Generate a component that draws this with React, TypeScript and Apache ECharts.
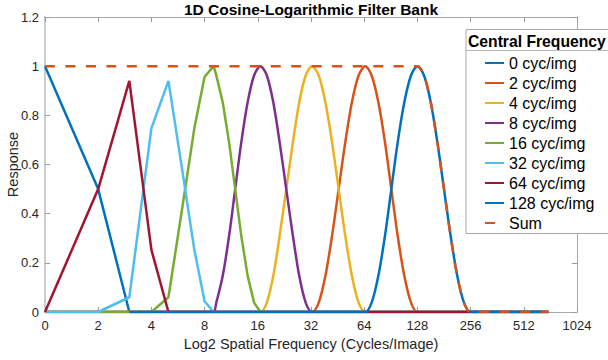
import React, { useEffect, useRef } from "react";
import * as echarts from "echarts";

// Tick labels of the log2 frequency axis (positions 0..10)
const xTickLabels = ["0", "2", "4", "8", "16", "32", "64", "128", "256", "512", "1024"];
const legendLabels = [
  "0 cyc/img",
  "2 cyc/img",
  "4 cyc/img",
  "8 cyc/img",
  "16 cyc/img",
  "32 cyc/img",
  "64 cyc/img",
  "128 cyc/img",
  "Sum",
];
const colors = ["#0072BD", "#D95319", "#EDB120", "#7E2F8E", "#77AC30", "#4DBEEE", "#A2142F", "#0072BD", "#D95319"];

// [log2 position, response]
const lowpass = [[0, 1], [1, 0.5], [1.585, 0], [9.46, 0]];
const band64 = [
  [0, 0], [4.9, 0], [5.02, 0], [5.145, 0.038], [5.27, 0.146], [5.395, 0.309], [5.52, 0.5], [5.645, 0.691],
  [5.77, 0.854], [5.895, 0.962], [6.02, 1], [6.14, 0.962], [6.265, 0.854], [6.39, 0.691], [6.51, 0.5],
  [6.63, 0.309], [6.755, 0.146], [6.88, 0.038], [7.0, 0], [7.12, 0], [9.46, 0],
];
const band32 = [
  [0, 0], [3.93, 0], [4.05, 0], [4.17, 0.038], [4.29, 0.146], [4.41, 0.309], [4.535, 0.5], [4.66, 0.691],
  [4.78, 0.854], [4.9, 0.962], [5.02, 1], [5.145, 0.962], [5.27, 0.854], [5.395, 0.691], [5.52, 0.5],
  [5.645, 0.309], [5.77, 0.146], [5.895, 0.038], [6.02, 0], [6.14, 0], [9.46, 0],
];
const band16 = [
  [0, 0], [3.06, 0], [3.17, 0], [3.22, 0.038], [3.34, 0.146], [3.46, 0.309], [3.575, 0.5], [3.69, 0.691],
  [3.81, 0.854], [3.93, 0.962], [4.05, 1], [4.17, 0.962], [4.29, 0.854], [4.41, 0.691], [4.535, 0.5],
  [4.66, 0.309], [4.78, 0.146], [4.9, 0.038], [5.02, 0], [5.145, 0], [9.46, 0],
];
const band8 = [
  [0, 0], [2, 0], [2.32, 0.06], [2.585, 0.43], [2.807, 0.747], [3.0, 0.957], [3.17, 1], [3.22, 0.962],
  [3.34, 0.854], [3.46, 0.691], [3.575, 0.5], [3.69, 0.309], [3.81, 0.146], [3.93, 0.038], [4.05, 0], [9.46, 0],
];
const band4 = [[0, 0], [1, 0], [1.585, 0.06], [2, 0.747], [2.32, 0.94], [2.585, 0.57], [2.807, 0.253], [3.0, 0.043], [3.17, 0], [9.46, 0]];
const band2 = [[0, 0], [1, 0.5], [1.585, 0.94], [2, 0.253], [2.32, 0], [9.46, 0]];
const band128 = [
  [1.585, 0], [5.9, 0], [6.02, 0], [6.14, 0.038], [6.265, 0.146], [6.39, 0.309], [6.51, 0.5], [6.63, 0.691],
  [6.755, 0.854], [6.88, 0.962], [7.0, 1], [7.125, 0.962], [7.25, 0.854], [7.375, 0.691], [7.5, 0.5],
  [7.625, 0.309], [7.75, 0.146], [7.875, 0.038], [8.0, 0], [8.12, 0], [9.46, 0],
];
const sumCurve = [
  [0, 1], [6.88, 1], [7.0, 1], [7.125, 0.962], [7.25, 0.854], [7.375, 0.691], [7.5, 0.5], [7.625, 0.309],
  [7.75, 0.146], [7.875, 0.038], [8.0, 0], [8.12, 0], [9.46, 0],
];

const seriesData = [lowpass, band64, band32, band16, band8, band4, band2, band128, sumCurve];
const smoothFlags = [false, 0.3, 0.3, 0.3, false, false, false, 0.3, 0.3];

const FONT = "'Liberation Sans', Arial, Helvetica, sans-serif";

export default function App() {
  const ref = useRef<HTMLDivElement>(null);
  useEffect(() => {
    if (!ref.current) return;
    const chart = echarts.init(ref.current, undefined, { renderer: "svg" });
    const axisLineTop = { show: true, onZero: false, lineStyle: { color: "#a8a8a8", width: 1 } };
    const tick = { show: true, inside: true, length: 5, lineStyle: { color: "#9a9a9a", width: 1 } };
    const option: any = {
      animation: false,
      backgroundColor: "#ffffff",
      title: {
        text: "1D Cosine-Logarithmic Filter Bank",
        left: 311,
        top: 1,
        padding: 0,
        textAlign: "center",
        textStyle: { fontSize: 15.5, fontWeight: "bold", color: "#000", fontFamily: FONT },
      },
      grid: { left: 45, right: 31, top: 17, bottom: 48, containLabel: false, outerBoundsMode: "none" },
      xAxis: [
        {
          type: "value",
          min: 0,
          max: 10,
          interval: 1,
          position: "bottom",
          axisLine: { show: true, onZero: false, lineStyle: { color: "#a8a8a8", width: 1 } },
          axisTick: tick,
          splitLine: { show: false },
          axisLabel: {
            formatter: (v: number) => xTickLabels[Math.round(v)] ?? "",
            fontSize: 13,
            color: "#262626",
            margin: 7,
            fontFamily: FONT,
          },
          name: "Log2 Spatial Frequency (Cycles/Image)",
          nameLocation: "middle",
          nameGap: 24,
          nameTextStyle: { fontSize: 14.5, color: "#262626", fontFamily: FONT },
        },
        {
          type: "value",
          min: 0,
          max: 10,
          interval: 1,
          position: "top",
          axisLine: axisLineTop,
          axisTick: tick,
          axisLabel: { show: false },
          splitLine: { show: false },
        },
      ],
      yAxis: [
        {
          type: "value",
          min: 0,
          max: 1.2,
          interval: 0.2,
          position: "left",
          axisLine: { show: true, onZero: false, lineStyle: { color: "#cccccc", width: 2 } },
          axisTick: tick,
          splitLine: { show: false },
          axisLabel: { fontSize: 13, color: "#262626", margin: 6, fontFamily: FONT },
          name: "Response",
          nameLocation: "middle",
          nameGap: 25,
          nameMoveOverlap: false,
          nameTextStyle: { fontSize: 14.5, color: "#262626", fontFamily: FONT },
        },
        {
          type: "value",
          min: 0,
          max: 1.2,
          interval: 0.2,
          position: "right",
          axisLine: axisLineTop,
          axisTick: tick,
          axisLabel: { show: false },
          splitLine: { show: false },
        },
      ],
      legend: {
        orient: "vertical",
        left: 484,
        top: 55,
        padding: 0,
        itemWidth: 19,
        itemHeight: 14,
        itemGap: 4,
        z: 20,
        data: legendLabels,
        itemStyle: { opacity: 0 },
        textStyle: { fontSize: 16, color: "#000", fontFamily: FONT },
      },
      graphic: [
        {
          type: "rect",
          z: 10,
          shape: { x: 466, y: 29.5, width: 160, height: 204 },
          style: { fill: "#ffffff", stroke: "#a8a8a8", lineWidth: 1 },
        },
        {
          type: "line",
          z: 11,
          shape: { x1: 466, y1: 50.5, x2: 608, y2: 50.5 },
          style: { stroke: "#b8b8b8", lineWidth: 1 },
        },
        {
          type: "text",
          z: 11,
          x: 468,
          y: 41,
          style: {
            text: "Central Frequency",
            fill: "#000",
            font: `bold 15.7px ${FONT}`,
            textVerticalAlign: "middle",
            verticalAlign: "middle",
          },
        },
      ],
      series: seriesData.map((d, i) => ({
        type: "line",
        name: legendLabels[i],
        data: d,
        xAxisIndex: 0,
        yAxisIndex: 0,
        showSymbol: false,
        symbol: "none",
        smooth: smoothFlags[i],
        color: colors[i],
        lineStyle: {
          color: colors[i],
          width: 2.5,
          type: i === 8 ? [10, 10.5] : "solid",
        },
        z: 2,
        silent: true,
      })),
    };
    chart.setOption(option);
    return () => chart.dispose();
  }, []);
  return <div ref={ref} style={{ position: "fixed", left: 0, top: 0, width: 608, height: 360 }} />;
}
